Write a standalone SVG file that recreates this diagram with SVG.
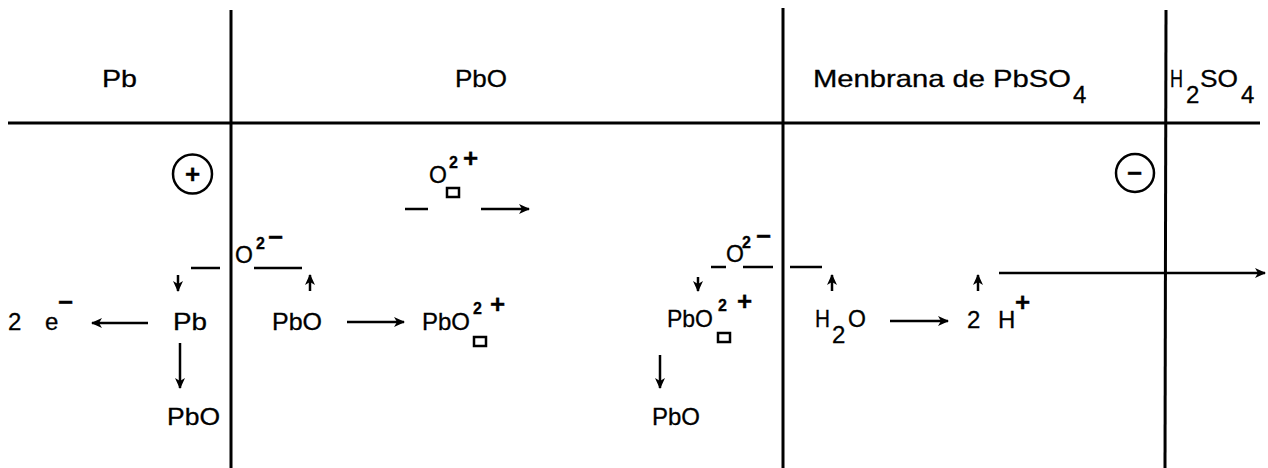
<svg xmlns="http://www.w3.org/2000/svg" width="1268" height="468" viewBox="0 0 1268 468">
<style>
.t{font-family:"Liberation Sans",Arial,sans-serif;font-size:24px;fill:#000;stroke:#000;stroke-width:0.3}
.o{font-size:23px}
.sup{font-size:16px;font-weight:bold}
.ch{font-size:26px;font-weight:bold}
.frame{stroke:#000;stroke-width:3;fill:none}
.c{stroke:#000;stroke-width:2.5;fill:none}
.arr{stroke:#000;stroke-width:2.5;fill:none;marker-end:url(#ah)}
.box{stroke:#000;stroke-width:2.5;fill:none}
</style>
<defs>
<marker id="ah" markerUnits="userSpaceOnUse" markerWidth="12" markerHeight="12" viewBox="0 0 12 12" refX="10" refY="6" orient="auto">
<path d="M0,1 L11,6 L0,11 L3,6 Z" fill="#000"/>
</marker>
</defs>
<rect width="1268" height="468" fill="#fff"/>
<g id="frame">
<line class="frame" x1="8" y1="123" x2="1260" y2="123"/>
<line class="frame" x1="231" y1="10" x2="231" y2="468"/>
<line class="frame" x1="783" y1="8" x2="783" y2="468"/>
<line class="frame" x1="1166" y1="10" x2="1165" y2="468"/>
</g>
<g id="headers">
<text class="t" x="102" y="87" textLength="35" lengthAdjust="spacingAndGlyphs">Pb</text>
<text class="t" x="455" y="87" textLength="52" lengthAdjust="spacingAndGlyphs">PbO</text>
<text class="t" x="813" y="87" textLength="258" lengthAdjust="spacingAndGlyphs">Menbrana de PbSO</text>
<text class="t" x="1073" y="103">4</text>
<text class="t" x="1170" y="87" textLength="13" lengthAdjust="spacingAndGlyphs">H</text>
<text class="t" x="1186" y="103">2</text>
<text class="t" x="1200" y="87" textLength="38" lengthAdjust="spacingAndGlyphs">SO</text>
<text class="t" x="1241" y="103">4</text>
</g>
<g id="electrode-plus">
<circle class="c" cx="192.5" cy="174" r="19.5"/>
<text class="t ch" x="185" y="183">+</text>
</g>
<g id="electrode-minus">
<circle class="c" cx="1135" cy="173" r="19"/>
<text class="t ch" x="1127" y="182">−</text>
</g>
<g id="O2minus-left">
<text class="t o" x="235" y="263">O</text>
<text class="t sup" x="256" y="249">2</text>
<text class="t ch" x="268" y="246">−</text>
</g>
<g id="vacancy-top">
<text class="t o" x="429" y="183">O</text>
<text class="t sup" x="449" y="168">2</text>
<text class="t ch" x="463" y="167">+</text>
<rect class="box" x="447" y="188" width="12" height="9"/>
</g>
<g id="O2minus-right">
<text class="t o" x="726" y="262">O</text>
<text class="t sup" x="742" y="248">2</text>
<text class="t ch" x="756" y="245">−</text>
</g>
<g id="electrons">
<text class="t" x="8" y="330">2</text>
<text class="t" x="45" y="330">e</text>
<text class="t ch" x="58" y="311">−</text>
</g>
<g id="Pb">
<text class="t" x="173" y="330" textLength="34" lengthAdjust="spacingAndGlyphs">Pb</text>
</g>
<g id="PbO-left">
<text class="t" x="167" y="425" textLength="53" lengthAdjust="spacingAndGlyphs">PbO</text>
</g>
<g id="PbO-1">
<text class="t" x="272" y="330" textLength="50" lengthAdjust="spacingAndGlyphs">PbO</text>
</g>
<g id="PbOvac-1">
<text class="t" x="422" y="330" textLength="48" lengthAdjust="spacingAndGlyphs">PbO</text>
<text class="t sup" x="473" y="314">2</text>
<text class="t ch" x="490" y="313">+</text>
<rect class="box" x="474" y="337" width="12" height="9"/>
</g>
<g id="PbOvac-2">
<text class="t" x="667" y="327" textLength="46" lengthAdjust="spacingAndGlyphs">PbO</text>
<text class="t sup" x="718" y="311">2</text>
<text class="t ch" x="737" y="310">+</text>
<rect class="box" x="718" y="333" width="12" height="9"/>
</g>
<g id="PbO-right">
<text class="t" x="652" y="425" textLength="48" lengthAdjust="spacingAndGlyphs">PbO</text>
</g>
<g id="H2O">
<text class="t" x="815" y="327" textLength="15" lengthAdjust="spacingAndGlyphs">H</text>
<text class="t" x="832" y="343">2</text>
<text class="t o" x="848" y="327">O</text>
</g>
<g id="Hplus">
<text class="t" x="967" y="328">2</text>
<text class="t" x="998" y="328">H</text>
<text class="t ch" x="1015" y="311">+</text>
</g>
<g id="connectors">
<line class="c" x1="191" y1="268" x2="220" y2="268"/>
<line class="c" x1="254" y1="268" x2="302" y2="268"/>
<line class="arr" x1="178" y1="275" x2="178" y2="291"/>
<line class="arr" x1="310" y1="291" x2="310" y2="275"/>
<line class="c" x1="405" y1="209" x2="428" y2="209"/>
<line class="arr" x1="481" y1="209" x2="529" y2="209"/>
<line class="c" x1="711" y1="267" x2="726" y2="267"/>
<line class="c" x1="743" y1="267" x2="773" y2="267"/>
<line class="c" x1="790" y1="267" x2="822" y2="267"/>
<line class="arr" x1="698" y1="277" x2="698" y2="291"/>
<line class="arr" x1="832" y1="291" x2="832" y2="275"/>
<line class="arr" x1="978" y1="291" x2="978" y2="275"/>
<line class="arr" x1="999" y1="273" x2="1265" y2="273"/>
<line class="arr" x1="148" y1="323" x2="92" y2="323"/>
<line class="arr" x1="180" y1="343" x2="180" y2="388"/>
<line class="arr" x1="347" y1="322" x2="404" y2="322"/>
<line class="arr" x1="660" y1="355" x2="660" y2="388"/>
<line class="arr" x1="890" y1="321" x2="948" y2="321"/>
</g>
</svg>
